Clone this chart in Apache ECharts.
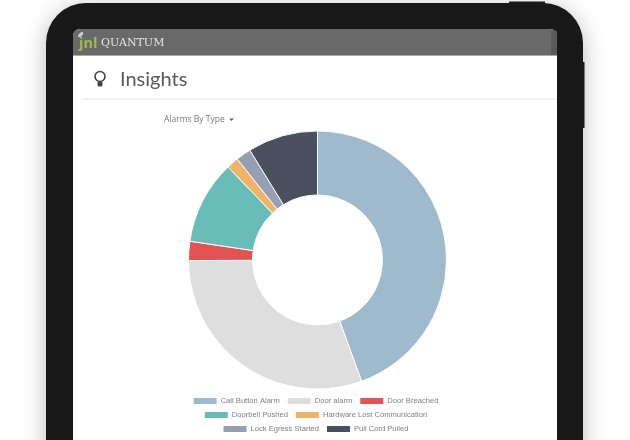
<!DOCTYPE html>
<html><head><meta charset="utf-8">
<style>html,body{margin:0;padding:0;background:#fff}#c{width:630px;height:440px;filter:blur(0.45px)}</style>
<script src="https://cdn.jsdelivr.net/npm/echarts@6/dist/echarts.min.js"></script></head>
<body><div id="c"></div>
<script>
const categories=['Call Button Alarm','Door alarm','Door Breached','Doorbell Pushed','Hardware Lost Communication','Lock Egress Started','Pull Cord Pulled'];
const values=[44.5,30.5,2.4,10.5,1.5,1.9,8.8];
const colors=['#9fb9cd','#dedede','#e25454','#69bdb9','#efb468','#959fb1','#4b505e'];
const legendRows=[categories.slice(0,3),categories.slice(3,5),categories.slice(5,7)];
const legendTops=[400,414,428];
const chart=echarts.init(document.getElementById('c'),null,{renderer:'canvas'});
chart.setOption({
  animation:false,backgroundColor:'#fff',color:colors,
  graphic:[
    {type:'rect',z:0,shape:{x:46,y:3,width:537,height:520,r:40},style:{fill:'#181818',shadowBlur:22,shadowColor:'rgba(0,0,0,0.28)',shadowOffsetY:4}},
    {type:'rect',z:0,shape:{x:509,y:1.5,width:36,height:4},style:{fill:'#181818'}},
    {type:'rect',z:0,shape:{x:582,y:62,width:2.5,height:66},style:{fill:'#181818'}},
    {type:'rect',z:0,shape:{x:73,y:29,width:484,height:470,r:[7,7,0,0]},style:{fill:'#fff'}},
    {type:'rect',z:0,shape:{x:73,y:29,width:484,height:27,r:[7,7,0,0]},style:{fill:'#696969'}},
    {type:'rect',z:0,shape:{x:551,y:30,width:6,height:25,r:[5,5,0,0]},style:{fill:'#5a5a5a'}},
    {type:'rect',z:0,shape:{x:73,y:55,width:484,height:1},style:{fill:'#a8a8a8'}},
    {type:'text',z:1,style:{x:79,y:44,text:'jnl',fill:'#9dbb4c',font:'bold 14.5px "Open Sans"',textVerticalAlign:'middle'}},
    {type:'sector',z:1,shape:{cx:83,cy:37,r:5,r0:2,startAngle:Math.PI,endAngle:Math.PI*1.5},style:{fill:'#d0d0d0'}},
    {type:'text',z:1,style:{x:101,y:43,text:'QUANTUM',fill:'#e4e4e4',font:'11px "DejaVu Serif"',textVerticalAlign:'middle'}},
    {type:'text',z:1,style:{x:120,y:79.5,text:'Insights',fill:'#5a5a5a',font:'20px "Lato"',textVerticalAlign:'middle'}},
    {type:'circle',z:1,shape:{cx:100,cy:76.5,r:5},style:{fill:'#fff',stroke:'#444',lineWidth:1.6}},
    {type:'rect',z:1,shape:{x:97.5,y:81.5,width:5,height:5,r:1.5},style:{fill:'#444'}},
    {type:'rect',z:1,shape:{x:82,y:98.5,width:475,height:1},style:{fill:'#e8e8e8'}},
    {type:'text',z:1,style:{x:164,y:120,text:'Alarms By Type',fill:'#777',font:'8.5px "Open Sans"',textVerticalAlign:'middle'}},
    {type:'polygon',z:1,shape:{points:[[229,118.5],[234,118.5],[231.5,121]]},style:{fill:'#666'}}
  ],
  legend:legendRows.map((row,i)=>({
    data:row,top:legendTops[i]-4,left:'center',orient:'horizontal',
    itemWidth:25,itemHeight:8,itemGap:6,icon:'rect',padding:0,selectedMode:false,
    textStyle:{color:'#808080',fontSize:7.6,fontFamily:'Liberation Sans',padding:[0,0,0,-2]}
  })),
  series:[{
    type:'pie',center:[317.5,260],radius:[65,129],startAngle:90,clockwise:true,
    label:{show:false},labelLine:{show:false},silent:true,
    itemStyle:{borderColor:'#fff',borderWidth:1},
    data:categories.map((name,i)=>({name,value:values[i]}))
  }]
});
</script></body></html>
